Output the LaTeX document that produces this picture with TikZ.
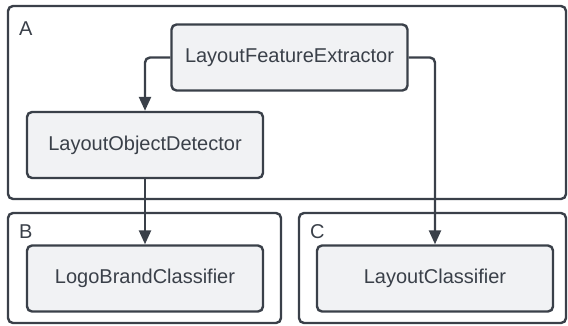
\documentclass[tikz,border=0pt]{standalone}
\usepackage{fontspec}
\setmainfont{Liberation Sans}
\usetikzlibrary{arrows.meta}
\definecolor{inkgray}{HTML}{3A4049}
\definecolor{boxgray}{HTML}{F1F2F4}
\begin{document}
\begin{tikzpicture}[x=1pt,y=-1pt,
    group/.style={draw=inkgray,line width=2.4pt,rounded corners=5pt},
    grouplabel/.style={anchor=west,inner sep=0pt,text=inkgray,font=\fontsize{20}{24}\selectfont},
    comp/.style={draw=inkgray,fill=boxgray,line width=2.4pt,rounded corners=5pt,
      text=inkgray,font=\fontsize{20}{24}\selectfont,minimum width=236pt,minimum height=66pt},
    flow/.style={draw=inkgray,line width=2.4pt,rounded corners=5pt,-{Triangle[length=14pt,width=12pt]}}]
      \useasboundingbox (0,0) rectangle (568,325);
      % groups
      \draw[group] (8,6) rectangle (566,199);
      \draw[group] (8,213) rectangle (281,323);
      \draw[group] (299,213) rectangle (566,323);
      \node[grouplabel] (labA) at (19,29) {A};
      \node[grouplabel] (labB) at (19,232) {B};
      \node[grouplabel] (labC) at (310,232) {C};
      % components
      \node[comp] (extractor) at (289.5,57.5) {LayoutFeatureExtractor};
      \node[comp] (detector) at (145,145) {LayoutObjectDetector};
      \node[comp] (logo) at (145,278.5) {LogoBrandClassifier};
      \node[comp] (layout) at (435,278.5) {LayoutClassifier};
      % connectors
      \draw[flow] (extractor.west) -| (detector.north);
      \draw[flow] (extractor.east) -| (layout.north);
      \draw[flow] (detector.south) -- (logo.north);
    \end{tikzpicture}
\end{document}
